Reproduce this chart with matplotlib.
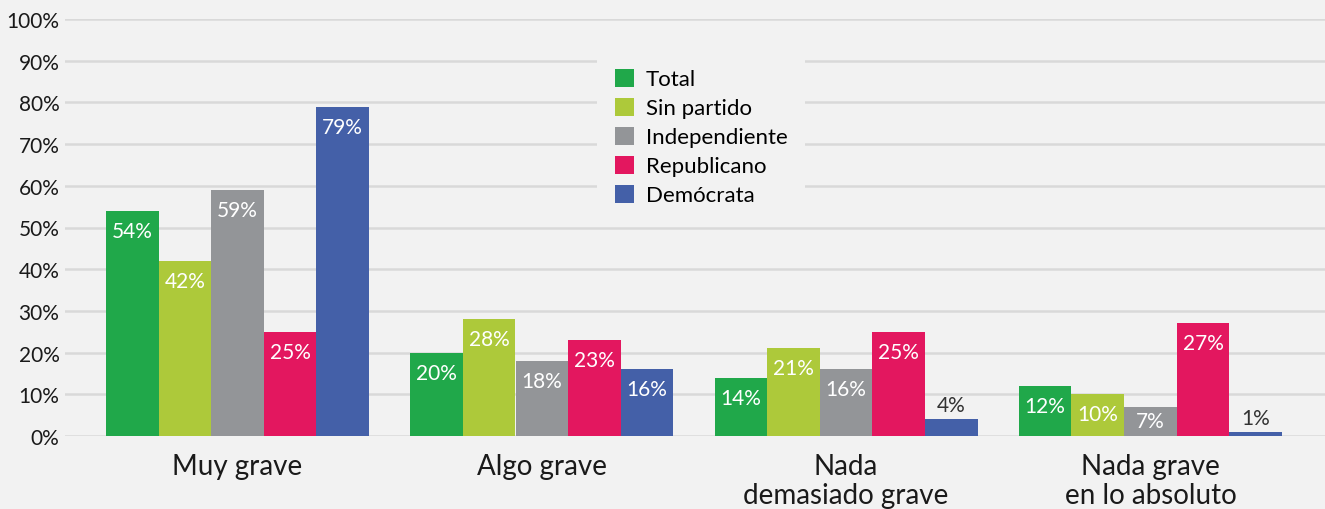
import matplotlib
matplotlib.use("Agg")
import matplotlib.pyplot as plt
import numpy as np
from matplotlib.patches import Patch

plt.rcParams['font.family'] = ['Lato', 'DejaVu Sans']

categories = ["Muy grave", "Algo grave", "Nada\ndemasiado grave", "Nada grave\nen lo absoluto"]
series_names = ["Total", "Sin partido", "Independiente", "Republicano", "Demócrata"]
total = [54, 20, 14, 12]
sin_partido = [42, 28, 21, 10]
independiente = [59, 18, 16, 7]
republicano = [25, 23, 25, 27]
democrata = [79, 16, 4, 1]
yticks = [0, 10, 20, 30, 40, 50, 60, 70, 80, 90, 100]
ytick_labels = [f"{v}%" for v in yticks]

series = [total, sin_partido, independiente, republicano, democrata]
colors = ["#20a84a", "#adc93a", "#939598", "#e3175f", "#4460a8"]
bg = "#f2f2f2"

W, H = 1325, 510
fig = plt.figure(figsize=(W / 100, H / 100), dpi=100, facecolor=bg)
ax_left, ax_right = 65, 1325
ax_bottom, ax_top = 437, 20
ax = fig.add_axes([ax_left / W, 1 - ax_bottom / H, (ax_right - ax_left) / W, (ax_bottom - ax_top) / H])
ax.set_facecolor(bg)

center0, step = 237.5, 304.3
xlim = ((ax_left - center0) / step, (ax_right - center0) / step)
ax.set_xlim(*xlim)
ax.set_ylim(0, 100)

bw = 52.6 / step
x = np.arange(len(categories))
px_per_unit = (ax_bottom - ax_top) / 100.0
for i, (vals, col) in enumerate(zip(series, colors)):
    xs = x + (i - 2) * bw
    ax.bar(xs, vals, width=bw, color=col, zorder=3, linewidth=0)
    for xi, v in zip(xs, vals):
        hpx = v * px_per_unit
        if v < 5:
            ax.annotate(f"{v}%", (xi, v), xytext=(0, 3), textcoords="offset points",
                        ha="center", va="bottom", color="#333333", fontsize=15, zorder=4)
        else:
            off = min(20, hpx / 2)
            ax.annotate(f"{v}%", (xi, v), xytext=(0, -off * 0.72), textcoords="offset points",
                        ha="center", va="center", color="white", fontsize=15, zorder=4)

ax.set_yticks(yticks)
ax.set_yticklabels(ytick_labels)
ax.set_xticks(x)
ax.set_xticklabels(categories, fontsize=20, linespacing=1.15)
ax.tick_params(axis='both', length=0, colors="#1a1a1a")
ax.tick_params(axis='y', labelsize=15, pad=4)
ax.tick_params(axis='x', pad=12)
for s in ax.spines.values():
    s.set_visible(False)
ax.grid(axis='y', color="#d9d9d9", linewidth=1.8, zorder=0)
ax.set_axisbelow(True)

handles = [Patch(facecolor=c, edgecolor='none') for c in colors]
leg = fig.legend(handles, series_names, loc="upper left",
                 bbox_to_anchor=(597 / W, 1 - 52 / H), frameon=True, fontsize=16,
                 handlelength=0.85, handleheight=0.85, handletextpad=0.55,
                 labelspacing=0.38, borderpad=0.8, borderaxespad=0)
leg.get_frame().set_facecolor(bg)
leg.get_frame().set_edgecolor('none')
leg.get_frame().set_alpha(1)
leg.set_zorder(10)

fig.savefig("out.png", dpi=100, facecolor=bg)
